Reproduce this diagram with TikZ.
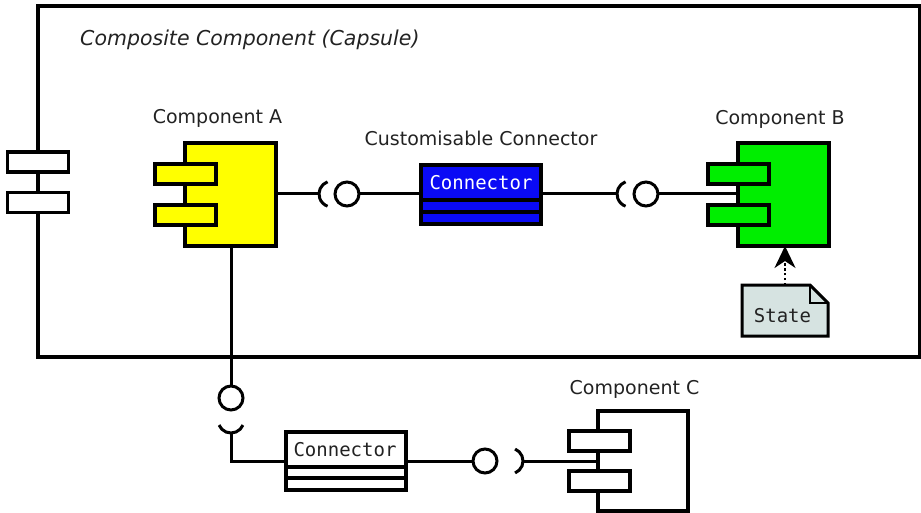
\documentclass[tikz,border=0pt]{standalone}
\usepackage{fontspec}
\setmainfont{DejaVu Sans}
\newfontfamily\monofont{DejaVu Sans Mono}
\usetikzlibrary{arrows.meta}

\definecolor{compA}{RGB}{255,255,0}
\definecolor{compB}{RGB}{0,238,0}
\definecolor{connblue}{RGB}{10,10,245}
\definecolor{notefill}{RGB}{214,227,225}
\definecolor{labelgray}{RGB}{34,34,34}

\tikzset{
  shapebox/.style={draw=black, line width=3.2pt, inner sep=0pt, outer sep=0pt, rectangle},
  tabbox/.style={shapebox, minimum width=61pt, minimum height=20pt, anchor=north west},
  wire/.style={draw=black, line width=3pt},
  ballnode/.style={draw=black, fill=white, line width=3pt, circle, minimum size=24pt, inner sep=0pt, outer sep=0pt},
  socket/.style={draw=black, line width=3pt},
  lbl/.style={font=\fontsize{19pt}{22pt}\selectfont, text=labelgray, anchor=base, inner sep=0pt},
  monolbl/.style={font=\fontsize{19pt}{22pt}\monofont, anchor=base, inner sep=0pt},
}

\begin{document}
\begin{tikzpicture}[x=1pt, y=-1pt]
\useasboundingbox (0,0) rectangle (921,513);

% capsule frame and its title
\node[shapebox, minimum width=882pt, minimum height=351pt, anchor=north west] (capsule) at (38,6) {};
\node[lbl, anchor=base west, font=\fontsize{20.5pt}{24pt}\selectfont\itshape] (title) at (80,46) {Composite Component (Capsule)};

% ports on the capsule border
\node[shapebox, fill=white, minimum width=61pt, minimum height=20pt] (port1) at (38,162) {};
\node[shapebox, fill=white, minimum width=61pt, minimum height=20pt] (port2) at (38,202.5) {};

% component A
\node[shapebox, fill=compA, minimum width=91pt, minimum height=103pt, anchor=north west] (A) at (185,143) {};
\node[tabbox, fill=compA] (A1) at (155,164) {};
\node[tabbox, fill=compA] (A2) at (155,205) {};
\node[lbl] (lblA) at (217.5,124) {Component A};

% component B
\node[shapebox, fill=compB, minimum width=91pt, minimum height=103pt, anchor=north west] (B) at (738,143) {};
\node[tabbox, fill=compB] (B1) at (708,164) {};
\node[tabbox, fill=compB] (B2) at (708,205) {};
\node[lbl] (lblB) at (780,125) {Component B};

% customisable connector
\node[shapebox, fill=connblue, minimum width=120pt, minimum height=35pt, anchor=north west] (K1) at (421,165) {};
\node[shapebox, fill=connblue, minimum width=120pt, minimum height=12pt, anchor=north west] (K1a) at (421,200) {};
\node[shapebox, fill=connblue, minimum width=120pt, minimum height=12pt, anchor=north west] (K1b) at (421,212) {};
\node[monolbl, text=white] (K1text) at (481,190) {Connector};
\node[lbl] (lblK1) at (481,146) {Customisable Connector};

% state note
\node[minimum width=86pt, minimum height=51pt, inner sep=0pt, outer sep=0pt, anchor=north west] (N) at (742,285) {};
\path[draw=black, fill=notefill, line width=3pt, line join=miter]
  (N.north west) -- ([xshift=-18pt]N.north east) -- ([yshift=-18pt]N.north east)
  -- (N.south east) -- (N.south west) -- cycle;
\draw[line width=2.2pt] ([xshift=-18pt]N.north east) |- ([yshift=-18pt]N.north east);
\node[monolbl, text=labelgray] (Ntext) at (782.5,322) {State};
\draw[line width=2.6pt, dash pattern=on 2.4pt off 2.4pt,
  -{Stealth[length=22pt, width=21pt, inset=7pt]}] (N.north) -- (N.north |- B.south);

% A -> customisable connector (socket + ball)
\coordinate (s1) at (332,194);
\node[ballnode] (b1) at (347,194) {};
\draw[socket] ([shift={(110:13pt)}]s1) arc[start angle=110, end angle=250, radius=13pt];
\draw[wire] (A.east |- s1) -- ([xshift=-13pt]s1);
\draw[wire] (b1.east) -- (b1.east -| K1.west);

% customisable connector -> B
\coordinate (s2) at (630,194);
\node[ballnode] (b2) at (646,194) {};
\draw[socket] ([shift={(110:13pt)}]s2) arc[start angle=110, end angle=250, radius=13pt];
\draw[wire] (K1.east |- s2) -- ([xshift=-13pt]s2);
\draw[wire] (b2.east) -- (b2.east -| B.west);

% component C and the outer connector
\node[shapebox, fill=white, minimum width=90pt, minimum height=100pt, anchor=north west] (C) at (598,411) {};
\node[tabbox, fill=white] (C1) at (569,431) {};
\node[tabbox, fill=white] (C2) at (569,471) {};
\node[lbl] (lblC) at (634.5,394) {Component C};

\node[shapebox, fill=white, minimum width=120pt, minimum height=35pt, anchor=north west] (K2) at (286,432) {};
\node[shapebox, fill=white, minimum width=120pt, minimum height=11pt, anchor=north west] (K2a) at (286,467) {};
\node[shapebox, fill=white, minimum width=120pt, minimum height=12pt, anchor=north west] (K2b) at (286,478) {};
\node[monolbl, text=labelgray] (K2text) at (345,456) {Connector};

% A -> outer connector (ball + socket going down)
\node[ballnode] (b3) at (231,398) {};
\coordinate (s3) at (231,420);
\coordinate (bend) at (231,461);
\draw[wire] (A.south -| b3) -- (b3.north);
\draw[socket] ([shift={(203:13pt)}]s3) arc[start angle=203, end angle=337, radius=13pt];
\draw[wire] ([yshift=-13pt]s3) -- (bend) -- (bend -| K2.west);

% outer connector -> C
\node[ballnode] (b4) at (485,461) {};
\coordinate (s4) at (510,461);
\draw[socket] ([shift={(-67:13pt)}]s4) arc[start angle=-67, end angle=67, radius=13pt];
\draw[wire] (K2.east |- b4) -- (b4.west);
\draw[wire] ([xshift=13pt]s4) -- (C.west);
\end{tikzpicture}
\end{document}
